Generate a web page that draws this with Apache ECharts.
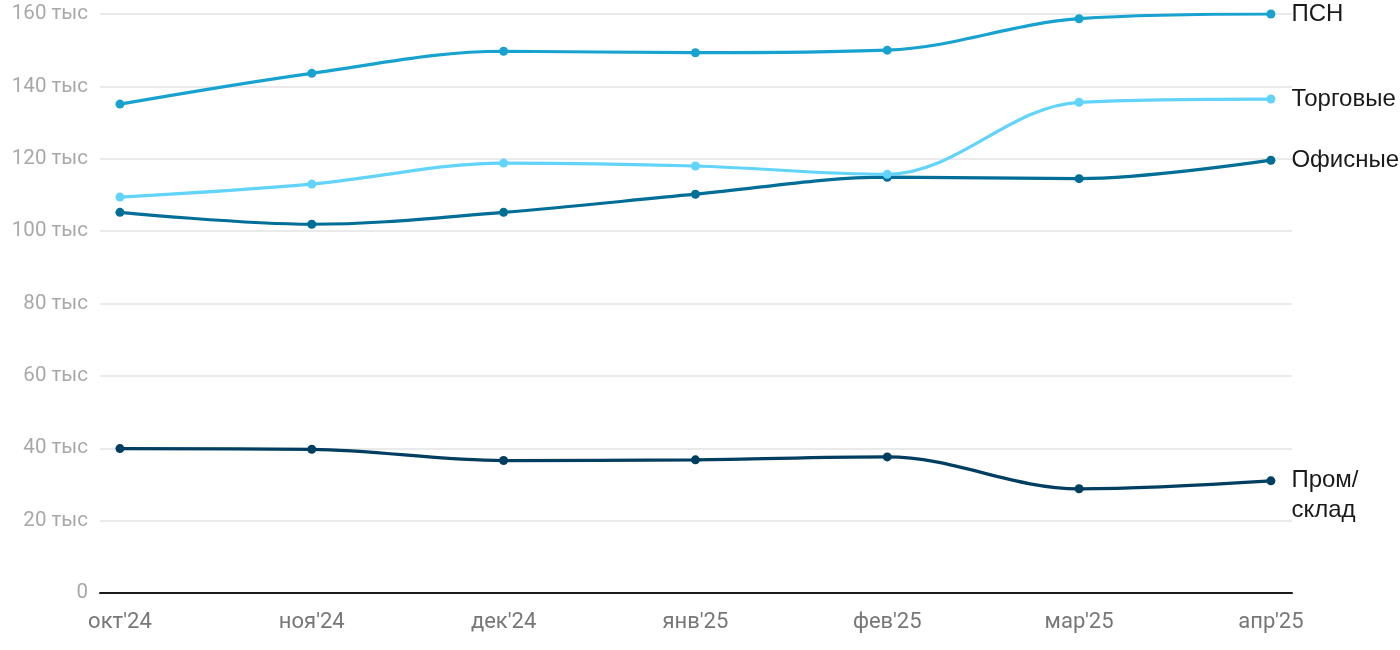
<!DOCTYPE html>
<html><head><meta charset="utf-8">
<script src="https://cdn.jsdelivr.net/npm/echarts@6/dist/echarts.min.js"></script>
<style>html,body{margin:0;padding:0;background:#fff}#c{width:1400px;height:650px}</style>
</head><body><div id="c"></div>
<script>
const categories = ["окт'24","ноя'24","дек'24","янв'25","фев'25","мар'25","апр'25"];
const seriesNames = ["ПСН","Торговые","Офисные","Пром/склад"];
const psn = [135.1, 143.6, 149.7, 149.3, 150.0, 158.7, 160.0];
const trade = [109.4, 113.0, 118.8, 118.0, 115.7, 135.6, 136.5];
const office = [105.2, 101.9, 105.2, 110.2, 114.9, 114.5, 119.6];
const industrial = [39.9, 39.7, 36.6, 36.8, 37.6, 28.8, 31.0];
const yTicks = [0,20,40,60,80,100,120,140,160];
const colors = ["#18a2d0","#62d4fa","#006e96","#003e61"];
const endLabels = ["ПСН","Торговые","Офисные","Пром/\nсклад"];

const values = [psn, trade, office, industrial];
const chart = echarts.init(document.getElementById('c'));
const series = values.map((arr, si) => ({
  name: seriesNames[si],
  type: 'line',
  smooth: 0.35,
  symbol: 'circle',
  symbolSize: 9,
  color: colors[si],
  lineStyle: {width: 3.2, color: colors[si]},
  itemStyle: {color: colors[si]},
  z: 10 - si,
  data: arr.map((v, i) => {
    const d = {value: [i, v]};
    if (i === arr.length - 1) {
      d.label = {
        show: true, position: 'right', distance: 16,
        formatter: endLabels[si], color: '#1a1a1a', fontSize: 24,
        fontFamily: '"Liberation Sans", Arial, sans-serif', lineHeight: 30,
        verticalAlign: si === 3 ? 'top' : 'middle',
        offset: si === 3 ? [0, -15] : [0, 0]
      };
    }
    return d;
  })
}));
chart.setOption({
  animation: false,
  grid: {left: 100, right: 108, top: 14, bottom: 57, containLabel: false},
  xAxis: {
    type: 'value', min: -0.104, max: 6.11,
    axisLine: {show: true, lineStyle: {color: '#1a1a1a', width: 2}},
    axisTick: {show: false},
    splitLine: {show: false},
    axisLabel: {
      customValues: categories.map((c, i) => i),
      formatter: v => categories[Math.round(v)],
      color: '#777', fontSize: 22, fontFamily: 'Roboto', margin: 18
    }
  },
  yAxis: {
    type: 'value', min: 0, max: 160, interval: 20,
    axisLine: {show: false}, axisTick: {show: false},
    splitLine: {lineStyle: {color: '#e3e3e3', width: 1.5}},
    axisLabel: {
      customValues: yTicks,
      formatter: v => v === 0 ? '0' : v + ' тыс',
      color: '#a8a8a8', fontSize: 20.5, fontFamily: 'Roboto', margin: 12,
      padding: [4, 0, 0, 0]
    }
  },
  series: series
});
</script></body></html>
